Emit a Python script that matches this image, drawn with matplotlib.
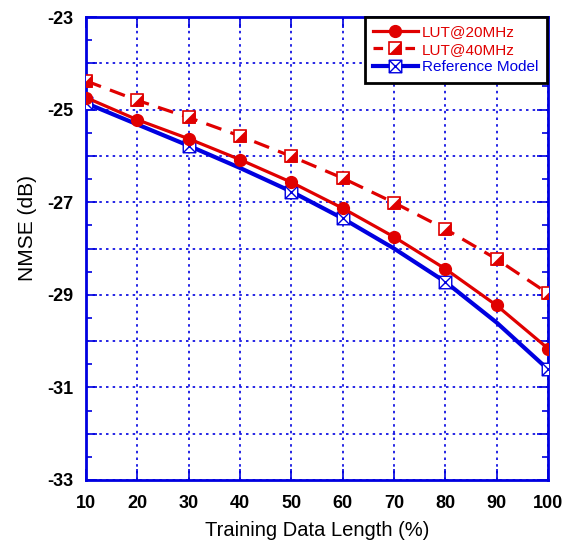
import matplotlib
matplotlib.use("Agg")
import matplotlib.pyplot as plt
from matplotlib.path import Path
from matplotlib.ticker import MultipleLocator, FuncFormatter

plt.rcParams['font.family'] = ['Liberation Sans', 'DejaVu Sans']

lengths = [10, 20, 30, 40, 50, 60, 70, 80, 90, 100]
lut20 = [-24.74, -25.22, -25.63, -26.08, -26.57, -27.13, -27.75, -28.44, -29.23, -30.16]
lut40 = [-24.38, -24.80, -25.17, -25.57, -26.01, -26.48, -27.01, -27.58, -28.23, -28.97]
reference = [-24.86, -25.32, -25.78, -26.26, -26.77, -27.35, -28.00, -28.72, -29.60, -30.61]
ref_marked = [0, 2, 4, 5, 7, 9]

red = '#e00000'
blue = '#0000e0'

# custom markers: square with a diagonal cross, and lower-right filled triangle
xbox = Path([(-1, -1), (1, -1), (1, 1), (-1, 1), (-1, -1),
             (-1, -1), (1, 1), (-1, 1), (1, -1)],
            [Path.MOVETO, Path.LINETO, Path.LINETO, Path.LINETO, Path.CLOSEPOLY,
             Path.MOVETO, Path.LINETO, Path.MOVETO, Path.LINETO])
half = Path([(1, -1), (1, 1), (-1, -1), (1, -1)],
            [Path.MOVETO, Path.LINETO, Path.LINETO, Path.CLOSEPOLY])

fig = plt.figure(figsize=(5.65, 5.44), dpi=100)
ax = fig.add_axes([86 / 565, 1 - 480 / 544, 462 / 565, 463 / 544])

ax.plot(lengths, reference, color=blue, lw=3.0, marker=xbox, markevery=ref_marked,
        ms=9, mfc='white', mec=blue, mew=1.0, zorder=3)
ax.plot(lengths, lut20, color=red, lw=2.3, marker='o', ms=8.5, mfc=red, mec=red, zorder=4)
ax.plot(lengths, lut40, color=red, lw=2.3, ls=(0, (5, 3)), marker='s', ms=8.5,
        mfc='white', mec=red, mew=1.2, zorder=4)
ax.plot(lengths, lut40, ls='none', marker=half, ms=8.5, mfc=red, mec=red, mew=0.5, zorder=5)

# legend entries
h20, = ax.plot([], [], color=red, lw=2.3, marker='o', ms=8.5, mfc=red, mec=red)
h40a, = ax.plot([], [], color=red, lw=2.3, ls=(0, (3, 2)), marker='s', ms=8.5,
                mfc='white', mec=red, mew=1.2)
h40b, = ax.plot([], [], ls='none', marker=half, ms=8.5, mfc=red, mec=red, mew=0.5)
href, = ax.plot([], [], color=blue, lw=3.0, marker=xbox, ms=9, mfc='white', mec=blue, mew=1.0)

leg = ax.legend([h20, (h40a, h40b), href], ['LUT@20MHz', 'LUT@40MHz', 'Reference Model'],
                loc='upper right', bbox_to_anchor=(547 / 565, 1 - 17 / 544),
                bbox_transform=fig.transFigure, borderaxespad=0, fontsize=11,
                handlelength=2.9, handletextpad=0.3, borderpad=0.55, labelspacing=0.22,
                fancybox=False, framealpha=1, edgecolor='black')
leg.get_frame().set_linewidth(2.0)
for txt, c in zip(leg.get_texts(), [red, red, blue]):
    txt.set_color(c)

ax.set_xlim(10, 100)
ax.set_ylim(-33, -23)
ax.xaxis.set_major_locator(MultipleLocator(10))
ax.yaxis.set_major_locator(MultipleLocator(1))
ax.yaxis.set_minor_locator(MultipleLocator(0.5))
ax.yaxis.set_major_formatter(FuncFormatter(lambda v, p: f'{int(round(v))}' if int(round(v)) % 2 else ''))

ax.grid(True, which='major', color=blue, ls=(0, (1.5, 2.5)), lw=1.2)
for s in ax.spines.values():
    s.set_color(blue)
    s.set_linewidth(2.0)
ax.tick_params(which='both', direction='in', color=blue, top=True, right=True)
ax.tick_params(which='major', length=8, width=1.2, labelsize=13)
ax.tick_params(axis='y', which='major', pad=9)
ax.tick_params(axis='x', which='major', pad=11)
ax.tick_params(which='minor', length=4, width=1.2)
for lbl in ax.get_xticklabels() + ax.get_yticklabels():
    lbl.set_fontweight('bold')

ax.set_xlabel('Training Data Length (%)', fontsize=14.5, labelpad=6)
ax.set_ylabel('NMSE (dB)', fontsize=15)
ax.yaxis.set_label_coords(-0.107, 0.545)

fig.savefig('out.png', dpi=100)
